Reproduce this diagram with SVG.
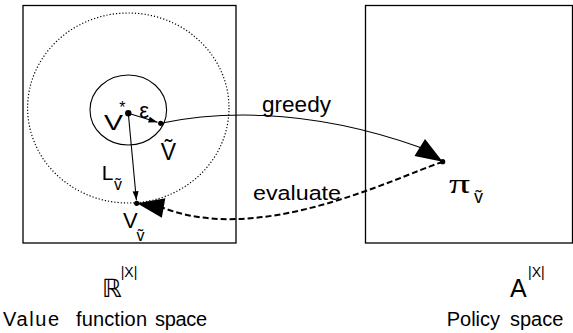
<svg xmlns="http://www.w3.org/2000/svg" width="573" height="333" viewBox="0 0 573 333">
<defs>
<style>
.box{fill:none;stroke:#000;stroke-width:1.3}
.t{font-family:"Liberation Sans",Arial,sans-serif;fill:#000}
.s{font-family:"Liberation Serif","Times New Roman",serif;fill:#000}
.ln{fill:none;stroke:#000;stroke-width:1.1}
.dash{fill:none;stroke:#000;stroke-width:2;stroke-dasharray:6 3}
.dot{fill:#000}
</style>
<marker id="sm" markerUnits="userSpaceOnUse" markerWidth="10" markerHeight="6" refX="9" refY="3" orient="auto" overflow="visible"><path d="M0,0 L9,3 L0,6 z" fill="#000"/></marker>
<marker id="big" markerUnits="userSpaceOnUse" markerWidth="28" markerHeight="20" refX="27" refY="10" orient="auto" overflow="visible"><path d="M0,0 L27,10 L0,20 z" fill="#000"/></marker>
</defs>
<g id="value-space">
<rect class="box" x="23" y="5.5" width="213" height="237.5"/>
<ellipse cx="128.3" cy="108" rx="100.7" ry="95" fill="none" stroke="#000" stroke-width="1.2" stroke-dasharray="1.2 2"/>
<ellipse cx="128.3" cy="110" rx="38.3" ry="35" fill="none" stroke="#000" stroke-width="1.1"/>
<text class="t" x="2" y="326" font-size="20"><tspan x="3" textLength="56">Value</tspan><tspan x="76" textLength="71">function</tspan><tspan x="155" textLength="52">space</tspan></text>
<text x="101.7" y="296.7" font-size="25" font-family="'DejaVu Sans',sans-serif">ℝ</text>
<text class="t" x="120.7" y="277" font-size="14">|X|</text>
</g>
<g id="policy-space">
<rect class="box" x="365.5" y="5.5" width="207" height="237.5"/>
<text class="t" x="446.7" y="326" font-size="20"><tspan x="446.7">Policy</tspan><tspan x="510">space</tspan></text>
<text class="t" x="510" y="297" font-size="25">A</text>
<text class="t" x="528" y="277" font-size="14">|X|</text>
</g>
<g id="v-star">
<circle class="dot" cx="128.3" cy="113.3" r="3.2"/>
<text class="t" x="104" y="129.5" font-size="22" textLength="19" lengthAdjust="spacingAndGlyphs">V</text>
<text class="t" x="119.3" y="113.2" font-size="16">*</text>
</g>
<g id="v-tilde">
<circle class="dot" cx="160.7" cy="123.3" r="2.6"/>
<text class="t" x="160.7" y="160" font-size="23">Ṽ</text>
</g>
<g id="v-v-tilde">
<circle class="dot" cx="136.7" cy="203.3" r="2.6"/>
<text class="t" x="123" y="228" font-size="22">V</text>
<text class="t" x="136.5" y="241" font-size="16">ṽ</text>
</g>
<g id="pi-v-tilde">
<circle class="dot" cx="442.7" cy="161.7" r="2.6"/>
<text class="s" x="449" y="193.3" font-size="28" textLength="21" lengthAdjust="spacingAndGlyphs">π</text>
<text class="t" x="474" y="203" font-size="18">ṽ</text>
</g>
<g id="connectors">
<path class="ln" d="M128.3,113.3 L157.5,122.3" marker-end="url(#sm)"/>
<text class="t" x="139.3" y="118.3" font-size="22">ε</text>
<path class="ln" d="M128.3,113.3 L136.4,200.3" marker-end="url(#sm)"/>
<text class="t" x="101.7" y="180" font-size="21">L</text>
<text class="t" x="114" y="190" font-size="16">ṽ</text>
<path class="ln" d="M160.7,123.3 C210,113 300,105 419,147 L442.7,161.7" marker-end="url(#big)"/>
<text class="t" x="262" y="112" font-size="21.5" textLength="69" lengthAdjust="spacingAndGlyphs">greedy</text>
<path class="dash" d="M442.7,161.7 C390,180 260,245 163.5,208 L137,203.3" marker-end="url(#big)"/>
<text class="t" x="253" y="200" font-size="20.5" textLength="88" lengthAdjust="spacingAndGlyphs">evaluate</text>
</g>
</svg>
